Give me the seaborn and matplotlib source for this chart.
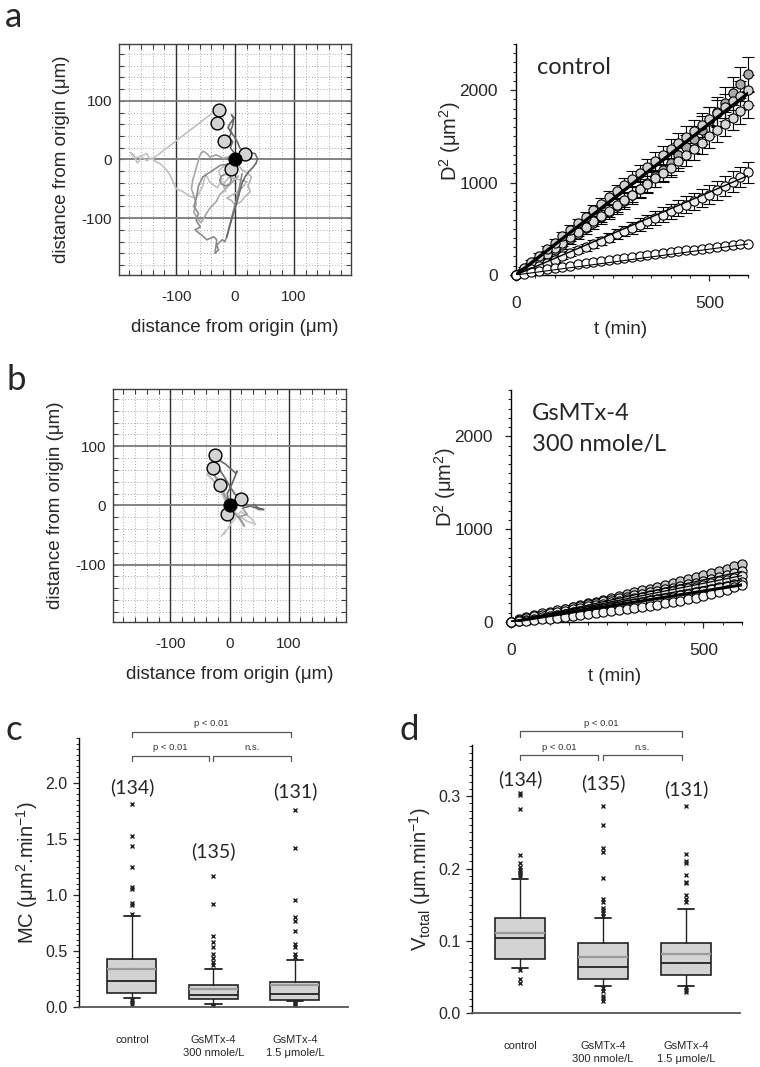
import matplotlib
matplotlib.use('Agg')
import matplotlib.pyplot as plt
from matplotlib.ticker import MultipleLocator, FormatStrFormatter
import numpy as np
import seaborn as sns

sns.set_style('ticks')
plt.rcParams['font.family'] = ['Liberation Sans', 'DejaVu Sans']
plt.rcParams['mathtext.fontset'] = 'custom'
plt.rcParams['mathtext.rm'] = 'Liberation Sans'
plt.rcParams['mathtext.it'] = 'Liberation Sans:italic'
plt.rcParams['mathtext.bf'] = 'Liberation Sans:bold'
plt.rcParams['axes.unicode_minus'] = False
CAL = ['Lato', 'DejaVu Sans']

''' 데이터: 궤적 (a: control) '''
a1_x = [0, -10, -20, -28, -22, -30, -42, -50, -55, -62, -68, -78, -90, -100, -104, -108, -112, -118, -126, -134,
        -142, -150, -158, -166, -172, -178, -170, -160, -150, -144, -136, -36]
a1_y = [0, -8, -12, -20, -35, -48, -40, -25, -45, -60, -66, -62, -54, -50, -40, -32, -24, -16, -8, -4,
        2, -2, 4, -6, 8, 12, 2, 6, 10, 0, 4, 81]
a2_x = [0, -12, -25, -40, -55, -62, -66, -70, -62, -66, -59, -68, -53, -48, -36, -31, -34, -28, -31, -22,
        -17, -14, -6, 2, 8, 12]
a2_y = [0, -8, -10, -20, -30, -45, -68, -80, -92, -104, -115, -120, -132, -137, -132, -137, -160, -154, -146, -137,
        -140, -132, -100, -70, -45, -24]
a3_x = [0, -8, -20, -32, -42, -50, -55, -60, -64, -68, -72, -74, -70, -66, -70, -64, -58, -52, -46, -40,
        -32, -26, -18, -10, -2, 6]
a3_y = [0, 5, 2, 8, 4, 12, 14, 6, -8, -22, -36, -50, -62, -76, -90, -100, -108, -98, -88, -80,
        -72, -60, -52, -44, -36, -28]
a4_x = [0, 4, -2, -8, -4, -10, -6, -12, -8, -2, -6, -2, -4, -8, -2, 4, 8, 14, 24, 34,
        38, 36, 30, 24, 18, 12, 8, 4, -2, -8, -14]
a4_y = [0, 6, 12, 20, 30, 38, 46, 54, 62, 70, 76, 72, 58, 48, 40, 30, 20, 14, 12, 10,
        2, -6, -14, -20, -28, -40, -55, -70, -90, -110, -132]
a5_x = [0, 6, 12, 20, 28, 22, 26, 18, 10, 0, -6, -14, -4, 6, 14, 20, -10, -20, -16]
a5_y = [0, -10, -18, -22, -30, -45, -55, -62, -72, -78, -70, -66, -60, -54, -46, -38, -30, -42, -55]
a6_x = [-6, -9, -16, -23, -26, -23, -16, -9, -6]
a6_y = [-35, -28, -25, -28, -35, -42, -45, -42, -35]
a_cells_x = [-28, -31, -18, 17, -6]
a_cells_y = [85, 62, 32, 10, -17]

''' 데이터: 궤적 (b: GsMTx-4) '''
b1_x = [0, -4, 4, 13, 10, -7, -20, -32, -22, -10, 2, 10, 19, 24, 36, 44, 50, 58, 48, 41]
b1_y = [0, 20, 36, 58, 55, 70, 78, 84, 68, 50, 30, 18, 19, -4, -1, -4, -7, -7, -4, 2]
b2_x = [0, -4, -15, -27, -38, -30, -18, -4, 13, 30, 44, 36, 19, 2, -10, -7, -14]
b2_y = [0, 2, 24, 41, 53, 46, 30, 2, -15, -27, -32, -21, -10, -32, -49, -44, -52]
b3_x = [0, -10, -20, -35, -25, -10, 5, 20, 25, 15, 30, 22]
b3_y = [0, 22, 45, 60, 50, 20, -10, -25, -35, -20, -15, -5]
b_cells_x = [-25, -28, -16, 19, -5]
b_cells_y = [86, 64, 34, 11, -15]

''' 데이터: D^2 vs t '''
t_min = list(range(0, 601, 20))
ctl_s1 = [0, 70, 140, 210, 280, 350, 420, 490, 560, 630, 700, 770, 840, 905, 970, 1035, 1100, 1165, 1230, 1295,
          1360, 1425, 1490, 1555, 1620, 1685, 1750, 1815, 1880, 1940, 2000]
ctl_s2 = [0, 50, 105, 160, 215, 270, 325, 385, 445, 505, 565, 625, 685, 745, 805, 870, 935, 1000, 1070, 1140,
          1215, 1295, 1380, 1470, 1565, 1665, 1765, 1865, 1965, 2070, 2175]
ctl_s3 = [0, 58, 116, 174, 232, 290, 348, 406, 464, 522, 580, 638, 696, 754, 812, 870, 928, 986, 1044, 1102,
          1160, 1228, 1296, 1364, 1432, 1500, 1568, 1636, 1704, 1772, 1840]
ctl_s4 = [0, 30, 64, 98, 132, 166, 200, 234, 268, 302, 336, 370, 405, 440, 475, 510, 546, 582, 618, 654,
          690, 726, 762, 798, 834, 870, 915, 960, 1010, 1060, 1110]
ctl_s5 = [0, 15, 30, 45, 60, 74, 88, 101, 114, 126, 138, 150, 162, 173, 184, 195, 206, 216, 226, 236,
          246, 256, 265, 274, 283, 292, 301, 310, 320, 330, 340]
ctl_e1 = [0, 12, 18, 25, 30, 34, 40, 46, 50, 54, 60, 66, 70, 74, 80, 86, 90, 95, 100, 106,
          110, 114, 120, 126, 130, 134, 140, 146, 150, 156, 160]
ctl_e2 = [0, 14, 20, 26, 33, 38, 44, 50, 57, 62, 68, 74, 80, 86, 92, 98, 105, 110, 116, 122,
          128, 134, 140, 146, 152, 158, 164, 170, 176, 182, 188]
ctl_e3 = [0, 10, 15, 20, 24, 30, 34, 40, 44, 50, 54, 60, 64, 70, 74, 80, 84, 90, 94, 100,
          104, 108, 112, 116, 120, 124, 128, 132, 136, 140, 144]
ctl_e4 = [0, 6, 10, 14, 18, 22, 26, 30, 34, 38, 42, 46, 50, 54, 58, 62, 66, 70, 74, 78,
          82, 86, 90, 94, 98, 102, 105, 108, 110, 112, 115]
ctl_fit_end = [1965, 1075, 335]

gsm_s1 = [0, 20, 40, 60, 80, 100, 120, 140, 160, 180, 200, 220, 240, 260, 280, 300, 320, 340, 360, 380,
          400, 422, 444, 466, 488, 510, 532, 554, 576, 598, 620]
gsm_s2 = [0, 30, 54, 74, 92, 109, 126, 142, 158, 174, 190, 206, 222, 238, 254, 270, 286, 302, 318, 334,
          350, 368, 386, 404, 422, 440, 459, 480, 501, 523, 545]
gsm_s3 = [0, 22, 42, 60, 76, 92, 108, 123, 138, 153, 168, 183, 198, 213, 228, 243, 258, 273, 288, 303,
          318, 334, 350, 366, 382, 398, 415, 436, 456, 476, 495]
gsm_s4 = [0, 12, 24, 37, 50, 63, 76, 89, 102, 115, 128, 141, 154, 167, 180, 193, 206, 219, 232, 245,
          258, 274, 290, 306, 322, 338, 355, 372, 390, 412, 435]
gsm_s5 = [0, 6, 12, 19, 27, 35, 44, 53, 62, 72, 82, 92, 103, 114, 125, 137, 149, 161, 174, 187,
          200, 215, 230, 246, 262, 280, 300, 322, 346, 372, 400]
gsm_fit_end = [400, 455, 500, 545]

''' 데이터: 박스플롯 '''
groups = ['control', 'GsMTx-4\n300 nmole/L', 'GsMTx-4\n1.5 μmole/L']
n_cells = [134, 135, 131]

mc_med = [0.23, 0.11, 0.12]
mc_q1 = [0.128, 0.069, 0.066]
mc_q3 = [0.43, 0.20, 0.224]
mc_mean = [0.34, 0.164, 0.20]
mc_lo = [0.084, 0.03, 0.05]
mc_hi = [0.815, 0.34, 0.424]
mc_out = [[1.81, 1.525, 1.44, 1.25, 1.07, 1.057, 0.93, 0.91, 0.83, 0.066, 0.045, 0.03],
          [1.17, 0.92, 0.633, 0.576, 0.537, 0.469, 0.44, 0.40, 0.373, 0.015, 0.01, 0.004],
          [1.76, 1.42, 0.955, 0.80, 0.767, 0.675, 0.56, 0.537, 0.47, 0.448, 0.036, 0.024, 0.015]]

v_med = [0.104, 0.0636, 0.0696]
v_q1 = [0.075, 0.0465, 0.052]
v_q3 = [0.132, 0.097, 0.097]
v_mean = [0.111, 0.0774, 0.081]
v_lo = [0.0627, 0.038, 0.038]
v_hi = [0.185, 0.132, 0.144]
v_out = [[0.305, 0.302, 0.283, 0.219, 0.207, 0.202, 0.198, 0.195, 0.193, 0.189, 0.059, 0.047, 0.042],
         [0.286, 0.26, 0.228, 0.223, 0.187, 0.158, 0.154, 0.145, 0.142, 0.138, 0.1346,
          0.0346, 0.03, 0.024, 0.021, 0.0166],
         [0.286, 0.22, 0.21, 0.207, 0.191, 0.182, 0.180, 0.163, 0.158, 0.153, 0.036, 0.032, 0.029]]


fig = plt.figure(figsize=(7.6, 10.67), dpi=100)


def traj_panel(rect, tracks, cx, cy):
    ax = fig.add_axes(rect)
    ax.set_xlim(-197, 197)
    ax.set_ylim(-197, 197)
    ax.set_xticks([-100, 0, 100])
    ax.set_yticks([-100, 0, 100])
    ax.set_xticks(np.arange(-180, 181, 20), minor=True)
    ax.set_yticks(np.arange(-180, 181, 20), minor=True)
    ax.grid(which='minor', color='#a8a8a8', linestyle=(0, (1, 2)), linewidth=0.7, zorder=0)
    for v in (-100, 0, 100):
        ax.axvline(v, color='#303030', lw=1.0, zorder=1)
        ax.axhline(v, color='#7a7a7a', lw=1.3, zorder=1)
    for sp in ax.spines.values():
        sp.set_color('#404040')
        sp.set_linewidth(1.0)
    ax.tick_params(which='both', direction='in', top=True, right=True, length=3.5,
                   width=0.8, color='#404040', labelsize=11)
    ax.tick_params(axis='x', pad=11)
    ax.tick_params(axis='y', pad=5)
    for tx, ty, col in tracks:
        sns.lineplot(x=tx, y=ty, sort=False, estimator=None, color=col, lw=1.2, ax=ax, zorder=2)
    sns.scatterplot(x=cx, y=cy, s=85, color='#d3d3d3', edgecolor='black', linewidth=1.0,
                    ax=ax, zorder=4)
    sns.scatterplot(x=[0], y=[0], s=85, color='black', edgecolor='black', linewidth=1.0,
                    ax=ax, zorder=5)
    ax.set_xlabel('distance from origin (μm)', fontsize=13.5)
    ax.set_ylabel('distance from origin (μm)', fontsize=13.5)
    ax.xaxis.set_label_coords(0.5, -0.19)
    ax.yaxis.set_label_coords(-0.21, 0.5)
    return ax


def msd_panel(rect, series, colors, errs, fit_end, fit_lw, title_lines):
    ax = fig.add_axes(rect)
    ax.set_xlim(0, 600)
    ax.set_ylim(0, 2500)
    sns.despine(ax=ax)
    ax.set_xticks([0, 500])
    ax.set_yticks([0, 1000, 2000])
    ax.xaxis.set_minor_locator(MultipleLocator(50))
    ax.yaxis.set_minor_locator(MultipleLocator(100))
    ax.tick_params(which='major', direction='out', length=4, width=0.9, labelsize=12.5)
    ax.tick_params(which='minor', direction='out', length=2.5, width=0.8)
    ax.tick_params(axis='x', pad=11)
    ax.tick_params(axis='y', pad=9)
    for sp in ('left', 'bottom'):
        ax.spines[sp].set_linewidth(1.0)
        ax.spines[sp].set_color('black')
    for s, e in zip(series, errs):
        if e is not None:
            ax.errorbar(t_min, s, yerr=e, fmt='none', ecolor='black', elinewidth=0.8,
                        capsize=4, capthick=0.8, zorder=2, clip_on=False)
    for s, c in zip(series, colors):
        sns.scatterplot(x=t_min, y=s, s=44, color=c, edgecolor='black', linewidth=0.8,
                        ax=ax, zorder=3, clip_on=False)
    for v, w in zip(fit_end, fit_lw):
        sns.lineplot(x=[0, 600], y=[0, v], color='black', lw=w, ax=ax, zorder=4)
    ax.set_xlabel('t (min)', fontsize=13.5)
    ax.set_ylabel('D$^{2}$ (μm$^{2}$)', fontsize=14.5)
    ax.xaxis.set_label_coords(0.45, -0.2)
    ax.yaxis.set_label_coords(-0.23, 0.58)
    for i, line in enumerate(title_lines):
        ax.text(0.09, 0.87 - i * 0.135, line, transform=ax.transAxes, fontsize=17,
                family=CAL, va='baseline')
    return ax


def box_panel(rect, med, q1, q3, mean, lo, hi, out, ylim, major, minor, ylab, n_y,
              xlim, brk):
    ax = fig.add_axes(rect)
    stats = []
    for i in range(3):
        stats.append(dict(med=med[i], q1=q1[i], q3=q3[i], mean=mean[i], whislo=lo[i],
                          whishi=hi[i], fliers=out[i]))
    ax.bxp(stats, positions=[0, 1, 2], widths=0.6, patch_artist=True, showmeans=True,
           meanline=True, manage_ticks=False, capwidths=0.2,
           boxprops=dict(facecolor='#d3d3d3', edgecolor='#222222', linewidth=1.2),
           medianprops=dict(color='#222222', linewidth=1.3),
           meanprops=dict(color='#9a9a9a', linestyle='-', linewidth=1.6),
           whiskerprops=dict(color='#222222', linewidth=1.0),
           capprops=dict(color='#222222', linewidth=1.3),
           flierprops=dict(marker='x', markersize=3.5, markeredgecolor='#222222',
                           markeredgewidth=1.0))
    sns.despine(ax=ax)
    ax.set_xlim(*xlim)
    ax.set_ylim(*ylim)
    ax.yaxis.set_major_locator(MultipleLocator(major))
    ax.yaxis.set_minor_locator(MultipleLocator(minor))
    ax.yaxis.set_major_formatter(FormatStrFormatter('%.1f'))
    ax.tick_params(axis='y', which='major', direction='out', length=4, width=0.9,
                   labelsize=11.5, pad=4)
    ax.tick_params(axis='y', which='minor', direction='out', length=2.5, width=0.7)
    ax.set_xticks([0, 1, 2])
    ax.set_xticklabels(groups, fontsize=8, linespacing=1.35)
    ax.tick_params(axis='x', length=0, pad=20)
    ax.spines['left'].set_color('black')
    ax.spines['left'].set_linewidth(1.0)
    ax.spines['bottom'].set_color('#555555')
    ax.spines['bottom'].set_linewidth(1.3)
    for i, n in enumerate(n_cells):
        ax.text(i, n_y[i], f'({n})', ha='center', va='center', fontsize=14, family=CAL)
    span = ylim[1]
    for x0, x1, yh, txt in brk:
        ax.plot([x0, x0, x1, x1], [yh - 0.02 * span, yh, yh, yh - 0.02 * span],
                color='#555555', lw=0.9, clip_on=False)
        ax.text((x0 + x1) / 2, yh + 0.03 * span, txt, ha='center', va='center',
                fontsize=6.8, color='#333333')
    ax.set_ylabel(ylab, fontsize=14.5)
    return ax


# a
traj_panel([0.1566, 0.7423, 0.3053, 0.2165],
           [(a1_x, a1_y, '#c2c2c2'), (a3_x, a3_y, '#a6a6a6'), (a5_x, a5_y, '#b6b6b6'),
            (a6_x, a6_y, '#8a8a8a'), (a2_x, a2_y, '#8a8a8a'), (a4_x, a4_y, '#6a6a6a')],
           a_cells_x, a_cells_y)
msd_panel([0.6789, 0.7423, 0.3053, 0.2165],
          [ctl_s2, ctl_s3, ctl_s1, ctl_s4, ctl_s5],
          ['#a9a9a9', '#d8d8d8', '#d0d0d0', '#eeeeee', 'white'],
          [ctl_e2, ctl_e3, ctl_e1, ctl_e4, None],
          ctl_fit_end, [2.4, 1.0, 0.8], ['control'])

# b
traj_panel([0.1487, 0.4171, 0.3066, 0.2184],
           [(b2_x, b2_y, '#c4c4c4'), (b3_x, b3_y, '#9a9a9a'), (b1_x, b1_y, '#6a6a6a')],
           b_cells_x, b_cells_y)
msd_panel([0.6724, 0.4171, 0.3039, 0.2174],
          [gsm_s1, gsm_s2, gsm_s3, gsm_s4, gsm_s5],
          ['#c6c6c6', '#dcdcdc', '#e2e2e2', '#e6e6e6', '#f2f2f2'],
          [None] * 5,
          gsm_fit_end, [2.2, 0.9, 0.9, 0.9], ['GsMTx-4', '300 nmole/L'])

# c
box_panel([0.1039, 0.0562, 0.3539, 0.2521], mc_med, mc_q1, mc_q3, mc_mean, mc_lo, mc_hi,
          mc_out, (0, 2.4), 0.5, 0.05, 'MC (μm$^{2}$.min$^{-1}$)', [1.96, 1.39, 1.93],
          (-0.65, 2.65),
          [(0, 1.95, 2.455, 'p < 0.01'), (0, 0.94, 2.24, 'p < 0.01'), (1.0, 1.95, 2.24, 'n.s.')])

# d
box_panel([0.6211, 0.0506, 0.3526, 0.2512], v_med, v_q1, v_q3, v_mean, v_lo, v_hi,
          v_out, (0, 0.371), 0.1, 0.01, 'V$_{\\mathrm{total}}$ (μm.min$^{-1}$)',
          [0.324, 0.318, 0.31], (-0.58, 2.65),
          [(0, 1.95, 0.39, 'p < 0.01'), (0, 0.94, 0.357, 'p < 0.01'), (1.0, 1.95, 0.357, 'n.s.')])

for lab, x, y in [('a', 0.0066, 0.9745), ('b', 0.0092, 0.6345), ('c', 0.0066, 0.3065),
                  ('d', 0.5263, 0.3065)]:
    fig.text(x, y, lab, fontsize=25, family=CAL, va='baseline')

fig.savefig('out.png', dpi=100)
